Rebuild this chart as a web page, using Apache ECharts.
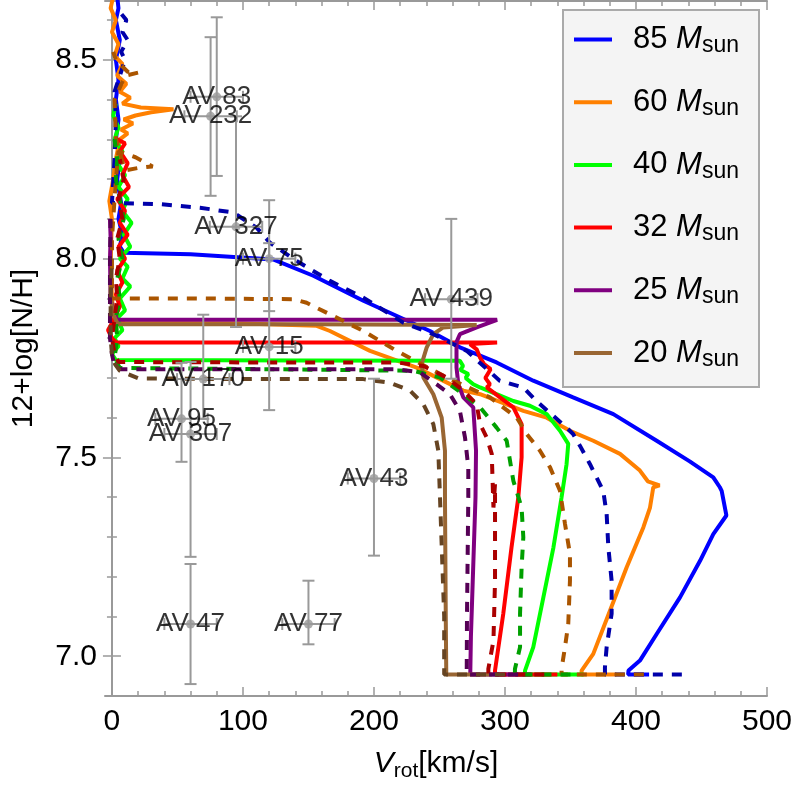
<!DOCTYPE html>
<html>
<head>
<meta charset="utf-8">
<script src="https://cdn.jsdelivr.net/npm/echarts@6/dist/echarts.min.js"></script>
<style>
  html, body { margin: 0; padding: 0; background: #fff; }
  #chart { width: 797px; height: 797px; }
</style>
</head>
<body>
<div id="chart"></div>
<script>
// tick values
const xMajor = [0, 100, 200, 300, 400, 500];
const xMinor = [20, 40, 60, 80, 120, 140, 160, 180, 220, 240, 260, 280, 320, 340, 360, 380, 420, 440, 460, 480];
const yMajor = [7.0, 7.5, 8.0, 8.5];
const yMinor = [6.9, 7.1, 7.2, 7.3, 7.4, 7.6, 7.7, 7.8, 7.9, 8.1, 8.2, 8.3, 8.4, 8.6];

// model tracks [Vrot, 12+log N/H]
const m85 = [[410, 6.954], [394, 6.954], [394.3, 6.964], [403, 6.989], [415.8, 7.056], [433.6, 7.148], [448.9, 7.24], [459, 7.307], [469, 7.354], [465.4, 7.416], [464, 7.425], [459, 7.45], [441, 7.49], [415.8, 7.542], [382.7, 7.609], [352, 7.651], [321.6, 7.693], [293.6, 7.739], [265.6, 7.777], [242.7, 7.818], [191.9, 7.894], [153.7, 7.957], [123, 7.998], [60, 8.011], [9, 8.015], [6, 8.03], [8, 8.06], [5, 8.1], [7, 8.14], [4, 8.2], [6, 8.25], [3, 8.3], [5, 8.35], [3, 8.4], [5, 8.45], [3, 8.5], [6, 8.55], [3, 8.6], [5, 8.63], [4, 8.66]];
const m60 = [[385, 6.954], [358.5, 6.954], [358.5, 6.964], [367.4, 7.006], [380.2, 7.115], [392.9, 7.224], [405.6, 7.324], [410.7, 7.374], [413.2, 7.425], [418, 7.43], [409, 7.44], [403, 7.467], [387.8, 7.509], [367.4, 7.542], [349.6, 7.567], [331.8, 7.6], [314, 7.617], [281, 7.659], [268.2, 7.668], [232.6, 7.726], [197, 7.768], [166.4, 7.818], [156.3, 7.831], [100, 7.837], [10, 7.838], [2, 7.84], [0, 7.9], [-1, 8.0], [0, 8.1], [-2, 8.145], [1, 8.2], [3, 8.25], [6, 8.3], [12, 8.315], [7, 8.325], [16, 8.34], [9, 8.35], [18, 8.36], [30, 8.368], [47, 8.376], [22, 8.38], [8, 8.39], [14, 8.405], [6, 8.42], [11, 8.44], [4, 8.46], [8, 8.49], [2, 8.51], [5, 8.54], [0, 8.57], [3, 8.6], [-1, 8.63], [1, 8.66]];
const m40 = [[360, 6.954], [315.3, 6.954], [315.3, 6.964], [321.6, 7.023], [329.3, 7.148], [337, 7.274], [343.2, 7.4], [347, 7.483], [348.3, 7.534], [342, 7.567], [331.8, 7.609], [319, 7.63], [306.4, 7.642], [293.6, 7.659], [281, 7.676], [275.8, 7.684], [270, 7.7], [272, 7.71], [266, 7.72], [268, 7.73], [265.6, 7.743], [150, 7.744], [3, 7.745], [0, 7.76], [5, 7.78], [2, 7.8], [8, 7.82], [4, 7.85], [10, 7.87], [6, 7.9], [14, 7.93], [8, 7.95], [12, 7.98], [6, 8.0], [14, 8.03], [9, 8.06], [15, 8.09], [8, 8.12], [12, 8.15], [5, 8.18], [10, 8.21], [4, 8.24], [8, 8.27], [2, 8.3], [5, 8.33], [1, 8.36], [3, 8.39]];
const m32 = [[340, 6.954], [292.4, 6.954], [292.4, 6.964], [298.7, 7.107], [305, 7.274], [310.2, 7.4], [312.7, 7.5], [312.7, 7.584], [306.4, 7.626], [296.2, 7.651], [286.1, 7.676], [288.5, 7.684], [285, 7.7], [289, 7.722], [284, 7.735], [281, 7.751], [278.4, 7.772], [273.3, 7.785], [294, 7.789], [150, 7.789], [8.5, 7.789], [3, 7.79], [0, 7.8], [-3, 7.82], [2, 7.85], [6, 7.88], [3, 7.91], [8, 7.94], [4, 7.97], [10, 8.0], [5, 8.03], [12, 8.06], [6, 8.09], [10, 8.12], [4, 8.15], [13, 8.18], [8, 8.21], [12, 8.24], [6, 8.27], [10, 8.29], [4, 8.3]];
const m25 = [[320, 6.954], [273.5, 6.954], [274, 7.05], [276, 7.25], [277.5, 7.4], [277.9, 7.517], [275.8, 7.626], [268.2, 7.651], [264.4, 7.684], [263, 7.726], [263, 7.79], [265.6, 7.81], [278.4, 7.827], [294, 7.846], [150, 7.846], [4, 7.846], [1, 7.87], [-1, 7.9], [-1.5, 8.0], [-1, 8.05], [-1.5, 8.1]];
const m20 = [[290, 6.954], [255.2, 6.954], [254.8, 7.1], [254.2, 7.4], [254.2, 7.517], [251.7, 7.6], [245.3, 7.659], [237.7, 7.701], [236.4, 7.735], [240.2, 7.776], [245.3, 7.81], [252.9, 7.827], [278.4, 7.833], [150, 7.835], [4.6, 7.835], [1, 7.86], [-1, 7.9], [-1, 7.95]];

// dashed tracks
const d85 = [[435, 6.954], [376.3, 6.954], [376.3, 6.972], [377.6, 7.023], [381.4, 7.107], [381.4, 7.19], [378.9, 7.274], [377.6, 7.358], [375, 7.416], [364.9, 7.483], [357.3, 7.529], [352, 7.559], [347, 7.575], [324, 7.642], [314, 7.676], [296, 7.693], [270.8, 7.768], [245.3, 7.81], [222.4, 7.839], [191.9, 7.902], [166.4, 7.944], [141, 7.994], [120.6, 8.04], [110.4, 8.078], [92.6, 8.116], [67.2, 8.128], [36.6, 8.137], [0, 8.14], [2, 8.25], [3, 8.35], [2, 8.42], [6, 8.46], [10, 8.5], [7, 8.52], [12, 8.55], [8, 8.57], [11, 8.6], [6, 8.62]];
const d60 = [[406, 6.954], [343.2, 6.954], [343.2, 6.968], [345.8, 7.023], [348.3, 7.081], [349.6, 7.19], [349.6, 7.257], [345.8, 7.333], [342, 7.416], [334.4, 7.475], [326.7, 7.517], [316.6, 7.559], [309, 7.6], [288.5, 7.651], [255.5, 7.701], [217.3, 7.768], [191.9, 7.818], [166.4, 7.86], [148.6, 7.889], [138.4, 7.898], [60, 7.9], [0, 7.9], [0, 8.05], [3, 8.2], [5, 8.27], [18, 8.255], [31, 8.232], [20, 8.228], [10, 8.222], [3, 8.3], [2, 8.4], [10, 8.46], [20, 8.468], [12, 8.47], [3, 8.5], [1, 8.52]];
const d40 = [[350, 6.954], [307.6, 6.954], [307.6, 6.968], [311.5, 7.023], [311.5, 7.107], [312.7, 7.224], [314, 7.299], [312.7, 7.374], [306.4, 7.441], [301.3, 7.542], [293.6, 7.575], [281, 7.626], [268.2, 7.659], [250.4, 7.701], [230, 7.718], [120, 7.722], [6, 7.725], [2, 7.75], [4, 7.8], [3, 7.85], [6, 7.9], [4, 7.95], [8, 8.0], [5, 8.05], [9, 8.1], [6, 8.15], [3, 8.2], [4, 8.25], [2, 8.3]];
const d32 = [[330, 6.954], [287.3, 6.954], [287.3, 6.968], [291.2, 7.039], [292.4, 7.19], [292.4, 7.433], [291.2, 7.374], [289.9, 7.509], [286.1, 7.55], [281, 7.584], [278.4, 7.634], [268.2, 7.668], [255.5, 7.701], [237.7, 7.73], [217.3, 7.739], [100, 7.739], [5, 7.74], [2, 7.76], [0, 7.8], [2, 7.85], [4, 7.9], [3, 7.95], [6, 8.0], [4, 8.05], [8, 8.1], [5, 8.15], [9, 8.2], [6, 8.25]];
const d25 = [[310, 6.954], [270.8, 6.954], [271, 7.1], [272, 7.4], [272, 7.475], [269.5, 7.55], [265.6, 7.617], [258, 7.659], [247.9, 7.684], [235.1, 7.714], [217.3, 7.722], [100, 7.722], [6, 7.722], [2, 7.73], [0, 7.76], [-1.5, 7.8], [-1.5, 7.9], [-1.5, 8.0], [-1, 8.1]];
const d20 = [[300, 6.954], [253.6, 6.954], [253.6, 7.1], [250.4, 7.4], [249.1, 7.517], [245.3, 7.584], [237.7, 7.634], [227.5, 7.668], [212.2, 7.688], [191.9, 7.697], [100, 7.697], [20, 7.699], [6, 7.718], [2.3, 7.735], [0, 7.76], [-1, 7.8], [-1, 7.9], [0, 8.0]];

// observed stars: name, Vrot, N/H, lower, upper
const starNames = ['AV 83', 'AV 232', 'AV 327', 'AV 75', 'AV 15', 'AV 439', 'AV 170', 'AV 95', 'AV 307', 'AV 43', 'AV 47', 'AV 77'];
const starV = [80, 75.3, 94.7, 120, 120, 259, 69.7, 53.1, 60, 200, 60, 150];
const starN = [8.407, 8.358, 8.08, 8.0, 7.778, 7.898, 7.697, 7.597, 7.559, 7.447, 7.081, 7.081];
const starLo = [8.208, 8.158, 7.828, 7.868, 7.619, 7.698, 7.597, 7.489, 7.25, 7.253, 6.93, 7.03];
const starHi = [8.607, 8.557, 8.358, 8.147, 8.039, 8.1, 7.859, 7.738, 7.74, 7.698, 7.232, 7.19];
const vErr = 20;

const massNames = ['85', '60', '40', '32', '25', '20'];
const solidTracks = [m85, m60, m40, m32, m25, m20];
const dashTracks = [d85, d60, d40, d32, d25, d20];
const solidColors = ['#0000ff', '#ff8000', '#00ff00', '#ff0000', '#800080', '#996633'];
const dashColors = ['#0000aa', '#aa5500', '#00a000', '#aa0000', '#550055', '#664422'];

const chart = echarts.init(document.getElementById('chart'));

const frame = '#999999';
const tickFont = 'Liberation Sans, Arial, sans-serif';
const xr = { min: -5.3, max: 500 };
const yr = { min: 6.9, max: 8.648 };

function axisBase(r) {
    return {
        type: 'value', min: r.min, max: r.max,
        splitLine: { show: false },
        axisLine: { show: true, lineStyle: { color: frame, width: 2 } }
    };
}

const series = [];
solidTracks.forEach(function (d, i) {
    series.push({
        name: massNames[i], type: 'line', data: d, showSymbol: false, symbol: 'none',
        lineStyle: { color: solidColors[i], width: 4 }, itemStyle: { color: solidColors[i] },
        z: 3, animation: false
    });
});
dashTracks.forEach(function (d, i) {
    series.push({
        name: massNames[i] + ' rot', type: 'line', data: d, showSymbol: false, symbol: 'none',
        lineStyle: { color: dashColors[i], width: 4, type: [10, 9] }, itemStyle: { color: dashColors[i] },
        z: 3, animation: false
    });
});

const starData = starNames.map(function (n, i) {
    return { name: n, value: [starV[i], starN[i], starLo[i], starHi[i]] };
});

// error bars
series.push({
    type: 'custom', z: 4, animation: false,
    data: starData,
    renderItem: function (params, api) {
        const x = api.value(0), y = api.value(1);
        const top = api.coord([x, api.value(3)]);
        const bot = api.coord([x, api.value(2)]);
        const l = api.coord([x - vErr, y]);
        const r = api.coord([x + vErr, y]);
        const c = 6;
        const st = { stroke: '#999999', lineWidth: 2 };
        const seg = function (a, b, c2, d) {
            return { type: 'line', shape: { x1: a, y1: b, x2: c2, y2: d }, style: st };
        };
        return {
            type: 'group',
            children: [
                seg(top[0], top[1], bot[0], bot[1]),
                seg(top[0] - c, top[1], top[0] + c, top[1]),
                seg(bot[0] - c, bot[1], bot[0] + c, bot[1]),
                seg(l[0], l[1], r[0], r[1]),
                seg(l[0], l[1] - c, l[0], l[1] + c),
                seg(r[0], r[1] - c, r[0], r[1] + c)
            ]
        };
    },
    encode: { x: 0, y: 1 }
});

series.push({
    type: 'scatter', z: 5, animation: false,
    data: starData,
    symbolSize: 9,
    itemStyle: { color: '#999999' },
    label: {
        show: true, position: 'inside', formatter: '{b}',
        color: '#000', fontSize: 26, fontFamily: tickFont,
        textBorderWidth: 0
    }
});

const option = {
    backgroundColor: '#ffffff',
    animation: false,
    grid: [
        { left: 105, right: 30, top: 1, bottom: 101 },
        { left: 105, right: 30, top: 1, bottom: 101 }
    ],
    legend: {
        data: massNames,
        orient: 'vertical',
        left: 563, top: 10,
        padding: [14, 20, 16, 11],
        itemGap: 29.2,
        itemWidth: 38, itemHeight: 4,
        icon: 'rect',
        backgroundColor: '#f4f4f4',
        borderColor: '#aaaaaa', borderWidth: 2,
        formatter: function (name) { return '{n|' + name + ' }{m|M}{s|sun}'; },
        textStyle: {
            padding: [0, 0, 0, 16],
            rich: {
                n: { fontSize: 31, lineHeight: 36, verticalAlign: 'middle', fontFamily: tickFont, color: '#000' },
                m: { fontSize: 31, lineHeight: 36, verticalAlign: 'middle', fontStyle: 'italic', fontFamily: tickFont, color: '#000' },
                s: { fontSize: 23, lineHeight: 21, verticalAlign: 'bottom', fontFamily: tickFont, color: '#000' }
            }
        }
    },
    xAxis: [
        Object.assign(axisBase(xr), {
            gridIndex: 0, position: 'bottom',
            axisTick: { show: true, inside: true, length: 9, customValues: xMajor, lineStyle: { color: frame, width: 1.5 } },
            axisLabel: { customValues: xMajor, color: '#000', fontSize: 30, fontFamily: tickFont, margin: 11 },
            name: '{v|V}{s|rot}{t|[km/s]}',
            nameLocation: 'middle', nameGap: 50,
            nameTextStyle: {
                rich: {
                    v: { fontSize: 30, lineHeight: 36, fontStyle: 'italic', verticalAlign: 'middle', fontFamily: tickFont, color: '#000' },
                    s: { fontSize: 21, lineHeight: 19, verticalAlign: 'bottom', fontFamily: tickFont, color: '#000' },
                    t: { fontSize: 30, lineHeight: 36, verticalAlign: 'middle', fontFamily: tickFont, color: '#000' }
                }
            }
        }),
        Object.assign(axisBase(xr), {
            gridIndex: 0, position: 'top',
            axisTick: { show: true, inside: true, length: 9, customValues: xMajor, lineStyle: { color: frame, width: 1.5 } },
            axisLabel: { show: false }
        }),
        Object.assign(axisBase(xr), {
            gridIndex: 1, position: 'bottom', axisLine: { show: false },
            axisTick: { show: true, inside: true, length: 5, customValues: xMinor, lineStyle: { color: frame, width: 1.5 } },
            axisLabel: { show: false }
        }),
        Object.assign(axisBase(xr), {
            gridIndex: 1, position: 'top', axisLine: { show: false },
            axisTick: { show: true, inside: true, length: 5, customValues: xMinor, lineStyle: { color: frame, width: 1.5 } },
            axisLabel: { show: false }
        })
    ],
    yAxis: [
        Object.assign(axisBase(yr), {
            gridIndex: 0, position: 'left',
            axisTick: { show: true, inside: true, length: 9, customValues: yMajor, lineStyle: { color: frame, width: 1.5 } },
            axisLabel: {
                customValues: yMajor, color: '#000', fontSize: 30, fontFamily: tickFont, margin: 8,
                formatter: function (v) { return v.toFixed(1); }
            },
            name: '12+log[N/H]',
            nameLocation: 'middle', nameGap: 66, nameRotate: 90,
            nameTextStyle: { fontSize: 30, color: '#000', fontFamily: tickFont }
        }),
        Object.assign(axisBase(yr), {
            gridIndex: 0, position: 'right',
            axisTick: { show: true, inside: true, length: 9, customValues: yMajor, lineStyle: { color: frame, width: 1.5 } },
            axisLabel: { show: false }
        }),
        Object.assign(axisBase(yr), {
            gridIndex: 1, position: 'left', axisLine: { show: false },
            axisTick: { show: true, inside: true, length: 5, customValues: yMinor, lineStyle: { color: frame, width: 1.5 } },
            axisLabel: { show: false }
        }),
        Object.assign(axisBase(yr), {
            gridIndex: 1, position: 'right', axisLine: { show: false },
            axisTick: { show: true, inside: true, length: 5, customValues: yMinor, lineStyle: { color: frame, width: 1.5 } },
            axisLabel: { show: false }
        })
    ],
    series: series
};

chart.setOption(option);
window.addEventListener('resize', function () {
    chart.resize();
});
</script>
</body>
</html>
